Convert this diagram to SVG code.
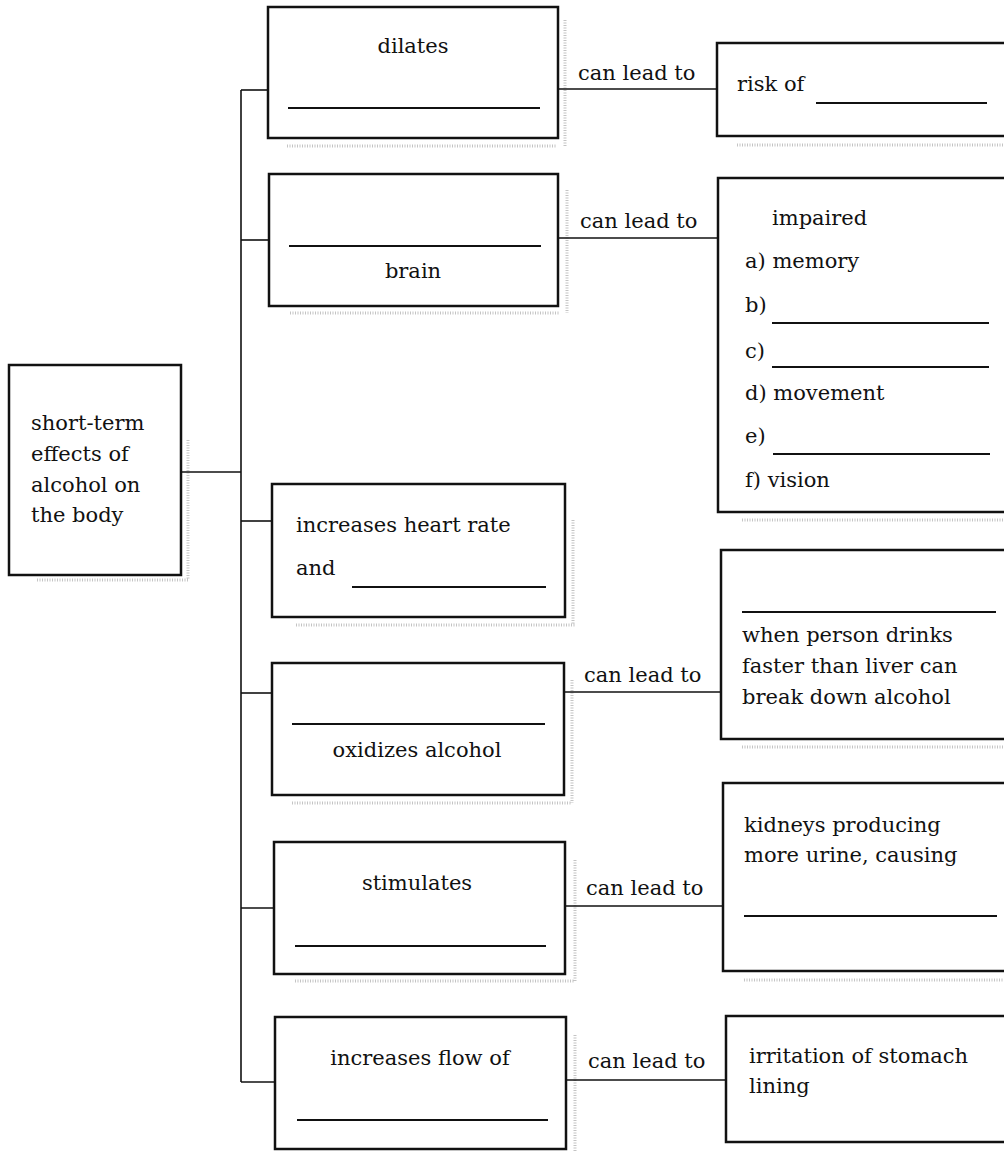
<svg xmlns="http://www.w3.org/2000/svg" width="1004" height="1151" viewBox="0 0 1004 1151">
<style>
  .box { fill: #fff; stroke: #111; stroke-width: 2.5; }
  .blank { stroke: #111; stroke-width: 2; fill: none; }
  .conn { stroke: #111; stroke-width: 1.6; fill: none; }
  .shadow { stroke: #c4c4c4; stroke-width: 3; stroke-dasharray: 1 1.5; fill: none; }
  text { font-family: "DejaVu Serif", "Liberation Serif", serif; font-size: 21px; fill: #111; }
  .mid { text-anchor: middle; }
</style>
<rect x="0" y="0" width="1004" height="1151" fill="#fff"/>

<g id="shadows">
  <path class="shadow" d="M287 146 H557 M565 20 V146"/>
  <path class="shadow" d="M290 313 H560 M567 190 V313"/>
  <path class="shadow" d="M737 145 H1004"/>
  <path class="shadow" d="M742 520 H1004"/>
  <path class="shadow" d="M37 580 H188 M188 440 V580"/>
  <path class="shadow" d="M296 625 H575 M573 520 V625"/>
  <path class="shadow" d="M292 803 H572 M572 680 V803"/>
  <path class="shadow" d="M742 747 H1004"/>
  <path class="shadow" d="M295 981 H575 M575 860 V981"/>
  <path class="shadow" d="M744 980 H1004"/>
  <path class="shadow" d="M575 1035 V1151"/>
</g>

<g id="connectors">
  <path class="conn" d="M181 472 H241"/>
  <path class="conn" d="M241 90 V1082"/>
  <path class="conn" d="M241 90 H268"/>
  <path class="conn" d="M241 240 H269"/>
  <path class="conn" d="M241 521 H272"/>
  <path class="conn" d="M241 693 H272"/>
  <path class="conn" d="M241 908 H274"/>
  <path class="conn" d="M241 1082 H275"/>
  <path class="conn" d="M558 89 H717"/>
  <path class="conn" d="M558 238 H718"/>
  <path class="conn" d="M564 692 H721"/>
  <path class="conn" d="M565 906 H723"/>
  <path class="conn" d="M566 1080 H726"/>
  <text x="578" y="80">can lead to</text>
  <text x="580" y="228">can lead to</text>
  <text x="584" y="682">can lead to</text>
  <text x="586" y="895">can lead to</text>
  <text x="588" y="1068">can lead to</text>
</g>

<g id="root">
  <rect class="box" x="9" y="365" width="172" height="210"/>
  <text x="31" y="430">short-term</text>
  <text x="31" y="461">effects of</text>
  <text x="31" y="492">alcohol on</text>
  <text x="31" y="522">the body</text>
</g>

<g id="dilates">
  <rect class="box" x="268" y="7" width="290" height="131"/>
  <text class="mid" x="413" y="53">dilates</text>
  <path class="blank" d="M288 108 H540"/>
</g>

<g id="risk">
  <rect class="box" x="717" y="43" width="300" height="93"/>
  <text x="737" y="91">risk of</text>
  <path class="blank" d="M816 103 H987"/>
</g>

<g id="brain">
  <rect class="box" x="269" y="174" width="289" height="132"/>
  <path class="blank" d="M289 246 H541"/>
  <text class="mid" x="413" y="278">brain</text>
</g>

<g id="impaired">
  <rect class="box" x="718" y="178" width="300" height="334"/>
  <text x="772" y="225">impaired</text>
  <text x="745" y="268">a) memory</text>
  <text x="745" y="312">b)</text>
  <path class="blank" d="M772 323 H989"/>
  <text x="745" y="358">c)</text>
  <path class="blank" d="M772 367 H989"/>
  <text x="745" y="400">d) movement</text>
  <text x="745" y="443">e)</text>
  <path class="blank" d="M773 454 H990"/>
  <text x="745" y="487">f) vision</text>
</g>

<g id="heart">
  <rect class="box" x="272" y="484" width="293" height="133"/>
  <text x="296" y="532">increases heart rate</text>
  <text x="296" y="575">and</text>
  <path class="blank" d="M352 587 H546"/>
</g>

<g id="oxidizes">
  <rect class="box" x="272" y="663" width="292" height="132"/>
  <path class="blank" d="M292 724 H545"/>
  <text class="mid" x="417" y="757">oxidizes alcohol</text>
</g>

<g id="liver">
  <rect class="box" x="721" y="550" width="300" height="189"/>
  <path class="blank" d="M742 612 H996"/>
  <text x="742" y="642">when person drinks</text>
  <text x="742" y="673">faster than liver can</text>
  <text x="742" y="704">break down alcohol</text>
</g>

<g id="stimulates">
  <rect class="box" x="274" y="842" width="291" height="132"/>
  <text class="mid" x="417" y="890">stimulates</text>
  <path class="blank" d="M295 946 H546"/>
</g>

<g id="kidneys">
  <rect class="box" x="723" y="783" width="300" height="188"/>
  <text x="744" y="832">kidneys producing</text>
  <text x="744" y="862">more urine, causing</text>
  <path class="blank" d="M744 916 H997"/>
</g>

<g id="flow">
  <rect class="box" x="275" y="1017" width="291" height="132"/>
  <text class="mid" x="420" y="1065">increases flow of</text>
  <path class="blank" d="M297 1120 H548"/>
</g>

<g id="stomach">
  <rect class="box" x="726" y="1016" width="300" height="126"/>
  <text x="749" y="1063">irritation of stomach</text>
  <text x="749" y="1093">lining</text>
</g>
</svg>
